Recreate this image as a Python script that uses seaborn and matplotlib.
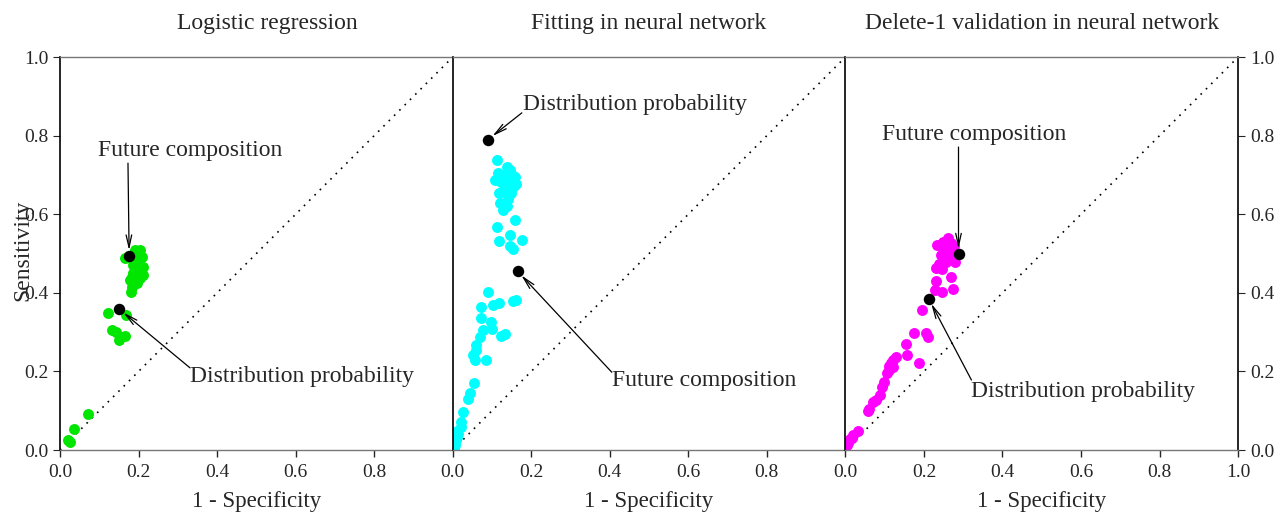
import matplotlib
matplotlib.use("Agg")
import matplotlib.pyplot as plt
import seaborn as sns

# logistic regression (green)
lr_x = [0.020, 0.025, 0.036, 0.072, 0.123, 0.133, 0.142, 0.150, 0.165, 0.168,
        0.165, 0.180, 0.178, 0.212, 0.191, 0.204, 0.199, 0.186, 0.204, 0.191,
        0.208, 0.182, 0.195, 0.200, 0.187, 0.210, 0.197, 0.183, 0.205, 0.193]
lr_y = [0.025, 0.020, 0.053, 0.091, 0.349, 0.305, 0.301, 0.280, 0.290, 0.343,
        0.488, 0.403, 0.433, 0.445, 0.509, 0.509, 0.475, 0.450, 0.437, 0.460,
        0.492, 0.416, 0.500, 0.495, 0.470, 0.465, 0.425, 0.440, 0.455, 0.485]
lr_black_x = [0.176, 0.150]
lr_black_y = [0.494, 0.359]

# neural network fitting (cyan)
nn_x = [0.113, 0.115, 0.137, 0.145, 0.122, 0.158, 0.162, 0.107, 0.132, 0.149,
        0.120, 0.137, 0.128, 0.154, 0.141, 0.119, 0.125, 0.140, 0.130, 0.150,
        0.113, 0.159, 0.118, 0.147, 0.177, 0.147, 0.153,
        0.090, 0.073, 0.103, 0.118, 0.153, 0.160, 0.073, 0.098, 0.101, 0.124,
        0.132, 0.077, 0.069, 0.060, 0.058, 0.052, 0.056, 0.084, 0.053, 0.043,
        0.039, 0.025, 0.022, 0.021, 0.014, 0.008, 0.005, 0.000, 0.007, 0.010,
        0.003, 0.012]
nn_y = [0.738, 0.704, 0.721, 0.712, 0.682, 0.695, 0.678, 0.687, 0.662, 0.653,
        0.628, 0.620, 0.611, 0.670, 0.687, 0.653, 0.700, 0.640, 0.675, 0.700,
        0.567, 0.585, 0.533, 0.547, 0.534, 0.520, 0.511,
        0.401, 0.365, 0.369, 0.375, 0.380, 0.382, 0.335, 0.326, 0.307, 0.290,
        0.295, 0.305, 0.288, 0.267, 0.255, 0.242, 0.229, 0.229, 0.171, 0.144,
        0.131, 0.096, 0.072, 0.059, 0.042, 0.025, 0.013, 0.000, 0.022, 0.034,
        0.005, 0.048]
nn_black_x = [0.090, 0.165]
nn_black_y = [0.790, 0.455]

# delete-1 validation (magenta)
dv_x = [0.260, 0.248, 0.269, 0.232, 0.277, 0.252, 0.265, 0.244, 0.273, 0.256,
        0.280, 0.231, 0.246, 0.239, 0.262, 0.255,
        0.270, 0.231, 0.227, 0.246, 0.275,
        0.195, 0.174, 0.205, 0.210, 0.154, 0.157, 0.187,
        0.129, 0.120, 0.116, 0.112, 0.110, 0.120, 0.106,
        0.099, 0.093, 0.088, 0.078, 0.070, 0.061, 0.057,
        0.031, 0.019, 0.016, 0.006, 0.000, 0.000, 0.012, 0.005]
dv_y = [0.539, 0.530, 0.526, 0.522, 0.520, 0.510, 0.500, 0.496, 0.488, 0.479,
        0.479, 0.462, 0.460, 0.473, 0.515, 0.490,
        0.441, 0.431, 0.407, 0.403, 0.409,
        0.356, 0.299, 0.299, 0.287, 0.270, 0.242, 0.222,
        0.237, 0.230, 0.222, 0.214, 0.204, 0.210, 0.197,
        0.174, 0.161, 0.140, 0.127, 0.123, 0.104, 0.100,
        0.049, 0.038, 0.030, 0.019, 0.008, 0.002, 0.027, 0.014]
dv_black_x = [0.288, 0.212]
dv_black_y = [0.498, 0.385]

titles = ["Logistic regression", "Fitting in neural network",
          "Delete-1 validation in neural network"]
title_x = [0.527, 0.5, 0.5]
colors = ["#00e600", "#00ffff", "#ff00ff"]
ticks = [0.0, 0.2, 0.4, 0.6, 0.8, 1.0]

# annotations: (label, black point index, text left/centre-y, arrow start)
notes = [
    [("Future composition", 0, (0.097, 0.761), (0.173, 0.730)),
     ("Distribution probability", 1, (0.331, 0.186), (0.331, 0.209))],
    [("Distribution probability", 0, (0.178, 0.878), (0.176, 0.858)),
     ("Future composition", 1, (0.405, 0.178), (0.405, 0.198))],
    [("Future composition", 0, (0.092, 0.802), (0.288, 0.771)),
     ("Distribution probability", 1, (0.321, 0.150), (0.321, 0.178))],
]

sns.set_style("white")
plt.rcParams['font.family'] = ['Liberation Serif', 'DejaVu Serif']

fig, axes = plt.subplots(1, 3, figsize=(12.83, 5.14), dpi=100, sharey=True)
fig.subplots_adjust(left=0.0468, right=0.965, top=0.889, bottom=0.1245, wspace=0)

data = [(lr_x, lr_y, lr_black_x, lr_black_y),
        (nn_x, nn_y, nn_black_x, nn_black_y),
        (dv_x, dv_y, dv_black_x, dv_black_y)]

for i, ax in enumerate(axes):
    xs, ys, bx, by = data[i]
    ax.plot([0, 1], [0, 1], color='black', linestyle=(0, (1, 3.5)), linewidth=1.2, zorder=1)
    sns.scatterplot(x=xs, y=ys, color=colors[i], s=62, linewidth=0, ax=ax, zorder=2)
    sns.scatterplot(x=bx, y=by, color='black', s=68, linewidth=0, ax=ax, zorder=3)
    for label, k, tpos, apos in notes[i]:
        ax.text(tpos[0], tpos[1], label, ha='left', va='center', fontsize=17)
        ax.annotate('', xy=(bx[k], by[k]), xytext=apos,
                    arrowprops=dict(arrowstyle='->,head_length=0.9,head_width=0.2',
                                    color='black', lw=0.9, shrinkA=0, shrinkB=4))
    ax.set_xlim(0, 1)
    ax.set_ylim(0, 1)
    ax.set_title(titles[i], fontsize=17, pad=20, x=title_x[i])
    ax.set_xlabel("1 - Specificity", fontsize=16.5, labelpad=7)
    xt = ticks if i == 2 else ticks[:-1]
    ax.set_xticks(xt)
    ax.set_xticklabels([f"{t:.1f}" for t in xt])
    ax.set_yticks(ticks)
    ax.tick_params(axis='x', direction='out', length=5, width=1, labelsize=14, bottom=True, pad=5)
    for side in ['top', 'bottom']:
        ax.spines[side].set_color('#777777')
        ax.spines[side].set_linewidth(1.0)
    ax.spines['left'].set_color('black')
    ax.spines['left'].set_linewidth(1.2)
    ax.spines['right'].set_visible(i == 2)
    ax.spines['right'].set_color('black')
    ax.spines['right'].set_linewidth(1.2)
    ax.grid(False)

axes[0].set_ylabel("Sensitivity", fontsize=17)
axes[0].yaxis.set_label_coords(-0.068, 0.509)
axes[0].set_yticklabels([f"{t:.1f}" for t in ticks])
axes[0].tick_params(axis='y', direction='out', length=5, left=True, labelsize=14)
axes[1].tick_params(axis='y', left=False, labelleft=False)
axes[2].tick_params(axis='y', direction='out', length=5, left=False, labelleft=False,
                    right=True, labelright=True, labelsize=14)

fig.savefig("out.png", dpi=100)
